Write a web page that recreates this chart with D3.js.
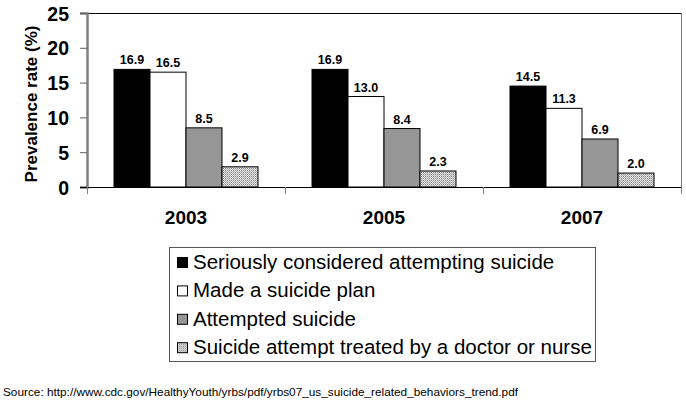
<!DOCTYPE html>
<html>
<head>
<meta charset="utf-8">
<script src="https://cdn.jsdelivr.net/npm/d3@7"></script>
<style>
  body { margin: 0; background: #fff; }
  svg { font-family: Arial, "Liberation Sans", sans-serif; }
</style>
</head>
<body>
<svg id="chart" width="686" height="407"></svg>
<script>
// Survey years and the four behaviour series (percent)
const years = ["2003", "2005", "2007"];
const seriesNames = [
  "Seriously considered attempting suicide",
  "Made a suicide plan",
  "Attempted suicide",
  "Suicide attempt treated by a doctor or nurse"
];
const considered = [16.9, 16.9, 14.5];
const plan = [16.5, 13.0, 11.3];
const attempted = [8.5, 8.4, 6.9];
const treated = [2.9, 2.3, 2.0];
const yTicks = [0, 5, 10, 15, 20, 25];
const sourceText = "Source: http://www.cdc.gov/HealthyYouth/yrbs/pdf/yrbs07_us_suicide_related_behaviors_trend.pdf";

const seriesValues = [considered, plan, attempted, treated];
const fills = ["#000000", "#ffffff", "#969696", "url(#dots)"];

const svg = d3.select("#chart");

// Fine dotted fill for the last series
const defs = svg.append("defs");
const pat = defs.append("pattern")
    .attr("id", "dots")
    .attr("patternUnits", "userSpaceOnUse")
    .attr("width", 2).attr("height", 2);
pat.append("rect").attr("width", 2).attr("height", 2).attr("fill", "#e0e0e0");
pat.append("rect").attr("width", 1).attr("height", 1).attr("fill", "#8a8a8a");
pat.append("rect").attr("x", 1).attr("y", 1).attr("width", 1).attr("height", 1).attr("fill", "#b4b4b4");

// Plot area
const plotL = 87, plotR = 681, plotT = 13, plotB = 187;

let x0 = d3.scaleBand().domain(years).range([plotL, plotR]).paddingInner(0).paddingOuter(0);
let x1 = d3.scaleBand().domain(d3.range(4)).range([27, x0.bandwidth() - 27]).padding(0);
let y = d3.scaleLinear().domain([0, 25]).range([plotB, plotT]);

// Plot frame: top and right borders
svg.append("line")
    .attr("x1", plotL - 7).attr("x2", plotR).attr("y1", plotT + 0.5).attr("y2", plotT + 0.5)
    .attr("stroke", "#000").attr("stroke-width", 1);
svg.append("line")
    .attr("x1", plotR + 0.5).attr("x2", plotR + 0.5).attr("y1", plotT).attr("y2", plotB)
    .attr("stroke", "#777").attr("stroke-width", 1);

// Bars
const groups = svg.append("g").selectAll("g")
  .data(years)
  .join("g")
    .attr("transform", d => `translate(${x0(d)},0)`);

groups.selectAll("rect")
  .data((d, i) => seriesValues.map((s, k) => ({k: k, v: s[i]})))
  .join("rect")
    .attr("x", d => x1(d.k))
    .attr("y", d => y(d.v))
    .attr("width", x1.bandwidth())
    .attr("height", d => y(0) - y(d.v))
    .attr("fill", d => fills[d.k])
    .attr("stroke", "#000")
    .attr("stroke-width", 1);

groups.selectAll("text")
  .data((d, i) => seriesValues.map((s, k) => ({k: k, v: s[i]})))
  .join("text")
    .attr("x", d => x1(d.k) + x1.bandwidth() / 2)
    .attr("y", d => y(d.v) - 5)
    .attr("text-anchor", "middle")
    .attr("font-size", "12.5px")
    .attr("font-weight", "bold")
    .text(d => d.v.toFixed(1));

// Y axis
const yAxis = svg.append("g")
    .attr("transform", `translate(${plotL},0)`)
    .call(d3.axisLeft(y).tickValues(yTicks).tickSize(7).tickPadding(11));
yAxis.select(".domain").attr("stroke", "#808080").attr("stroke-width", 2.5);
yAxis.selectAll(".tick line").attr("stroke", "#606060");
yAxis.selectAll(".tick text")
    .attr("font-size", "19.5px")
    .attr("font-weight", "bold")
    .attr("font-family", "Arial, 'Liberation Sans', sans-serif")
    .attr("fill", "#000")
    .attr("dy", "0.36em");

// X axis
const xAxis = svg.append("g")
    .attr("transform", `translate(0,${plotB})`)
    .call(d3.axisBottom(x0).tickSize(0).tickPadding(24));
xAxis.select(".domain").attr("stroke", "#000").attr("d", `M${plotL - 7},0.5H${plotR}`);
xAxis.selectAll(".tick text")
    .attr("font-size", "19px")
    .attr("font-weight", "bold")
    .attr("font-family", "Arial, 'Liberation Sans', sans-serif")
    .attr("fill", "#000");
// category boundary ticks
svg.append("g").selectAll("line")
  .data(years.concat(["end"]))
  .join("line")
    .attr("x1", (d, i) => i < years.length ? x0(d) + 0.5 : plotR + 0.5)
    .attr("x2", (d, i) => i < years.length ? x0(d) + 0.5 : plotR + 0.5)
    .attr("y1", plotB).attr("y2", plotB + 7)
    .attr("stroke", "#808080");

// Y axis title
svg.append("text")
    .attr("transform", `translate(37,${(plotT + plotB) / 2 + 4}) rotate(-90)`)
    .attr("text-anchor", "middle")
    .attr("font-size", "17px")
    .attr("font-weight", "bold")
    .text("Prevalence rate (%)");

// Legend
const lg = svg.append("g");
lg.append("rect")
    .attr("x", 169.5).attr("y", 247.5)
    .attr("width", 426).attr("height", 114)
    .attr("fill", "#fff").attr("stroke", "#555");
const rows = lg.selectAll("g.row")
  .data(seriesNames)
  .join("g")
    .attr("class", "row")
    .attr("transform", (d, i) => `translate(177,${269 + i * 28.4})`);
rows.append("rect")
    .attr("x", 0.5).attr("y", -11.5)
    .attr("width", 10).attr("height", 10)
    .attr("fill", (d, i) => fills[i])
    .attr("stroke", "#000");
rows.append("text")
    .attr("x", 16)
    .attr("y", 0)
    .attr("font-size", "20.5px")
    .text(d => d);

// Source note
svg.append("text")
    .attr("x", 3).attr("y", 396)
    .attr("font-size", "11.8px")
    .text(sourceText);
</script>
</body>
</html>
